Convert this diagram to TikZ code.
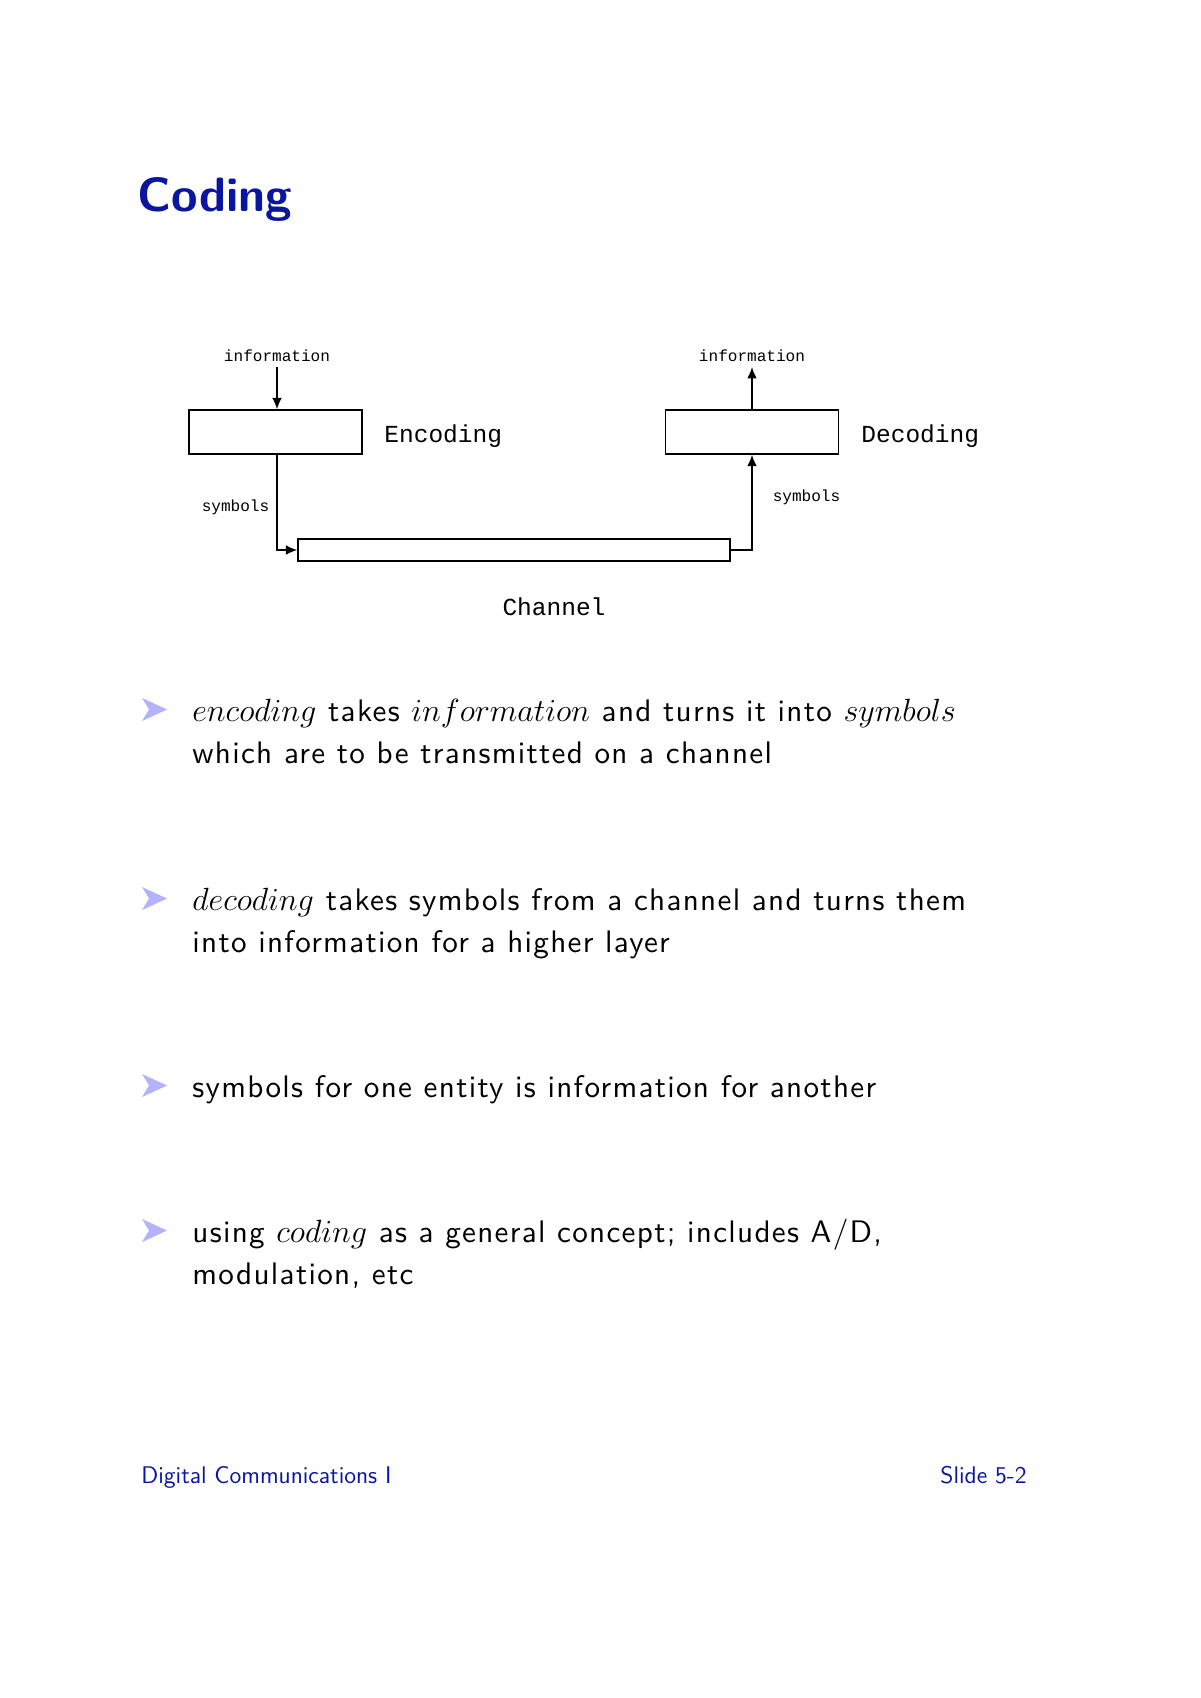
\documentclass[tikz,border=0pt]{standalone}
\usepackage{fix-cm}
\usepackage{fontspec}
\setmonofont{Liberation Mono}
\newfontfamily\bodyfont{lmsans10-regular}[Extension=.otf, LetterSpace=4.2]
\usetikzlibrary{positioning, arrows.meta}

\definecolor{slideblue}{RGB}{10,22,160}
\definecolor{bulletblue}{RGB}{178,178,255}

\tikzset{
  block/.style={draw, line width=0.7pt, inner sep=0pt, minimum width=30.3mm, minimum height=7.7mm},
  tinylabel/.style={font=\ttfamily\fontsize{8}{9}\selectfont, inner sep=0pt},
  boxlabel/.style={font=\ttfamily\fontsize{12.2}{14}\selectfont, inner sep=0pt},
  textline/.style={anchor=base west, inner sep=0pt, font=\bodyfont\fontsize{15.5}{19}\selectfont},
  link/.style={line width=0.7pt, -{Latex[length=2mm, width=1.7mm]}},
}

% bullet arrow, baseline at #1
\newcommand{\slidebullet}[1]{%
  \fill [bulletblue] (142, {#1-23}) -- (167, {#1-11.5}) -- (142, #1) -- (149, {#1-11.5}) -- cycle;}
% italic word, set as math
\newcommand{\mword}[1]{{\fontsize{16}{19}\selectfont$#1$}}

\begin{document}
\begin{tikzpicture}[x=0.175mm, y=-0.175mm]
    \useasboundingbox [fill=white] (0, 0) rectangle (1200, 1698);

    % Title
    \node [anchor=base west, inner sep=0pt, font=\sffamily\bfseries\fontsize{24}{29}\selectfont, text=slideblue] (title) at (137, 211) {Coding};

    % Encoder
    \node [block] (enc) at (275.5, 432) {};
    \node [boxlabel, anchor=west] (enclabel) at (384, 436) {Encoding};
    \node [tinylabel] (infoin) at (277, 356) {information};
    \coordinate (infotop) at (277, 367);
    \draw [link] (infotop) -- (infotop |- enc.north);

    % Decoder
    \node [block] (dec) at (752, 432) {};
    \node [boxlabel, anchor=west] (declabel) at (861, 436) {Decoding};
    \node [tinylabel] (infoout) at (752, 356) {information};
    \coordinate (infoend) at (752, 367);
    \draw [link] (dec.north) -- (infoend);

    % Channel
    \node [draw, line width=0.7pt, inner sep=0pt, minimum width=75.6mm, minimum height=3.85mm] (chan) at (514, 550) {};
    \node [boxlabel] (chanlabel) at (554, 607) {Channel};
    \draw [link] (infotop |- enc.south) |- (chan.west);
    \draw [link] (chan.east) -| (dec.south);
    \node [tinylabel] (symin) at (235.5, 507) {symbols};
    \node [tinylabel] (symout) at (806.5, 497) {symbols};

    % Bullets
    \slidebullet{721}
    \node [textline] (b1a) at (192, 721) {\mword{encoding} takes \mword{information} and turns it into \mword{symbols}};
    \node [textline] (b1b) at (192, 763.5) {which are to be transmitted on a channel};
    \slidebullet{910}
    \node [textline] (b2a) at (192, 910) {\mword{decoding} takes symbols from a channel and turns them};
    \node [textline] (b2b) at (192, 952.5) {into information for a higher layer};
    \slidebullet{1097}
    \node [textline] (b3a) at (192, 1097) {symbols for one entity is information for another};
    \slidebullet{1242}
    \node [textline] (b4a) at (192, 1242) {using \mword{coding} as a general concept; includes A/D,};
    \node [textline] (b4b) at (192, 1284.5) {modulation, etc};

    % Footer
    \node [anchor=base west, inner sep=0pt, font=\sffamily\fontsize{12}{14}\selectfont, text=slideblue] (foot) at (141, 1483) {Digital Communications I};
    \node [anchor=base east, inner sep=0pt, font=\sffamily\fontsize{12}{14}\selectfont, text=slideblue] (slide) at (1027, 1483) {Slide 5-2};
\end{tikzpicture}
\end{document}
